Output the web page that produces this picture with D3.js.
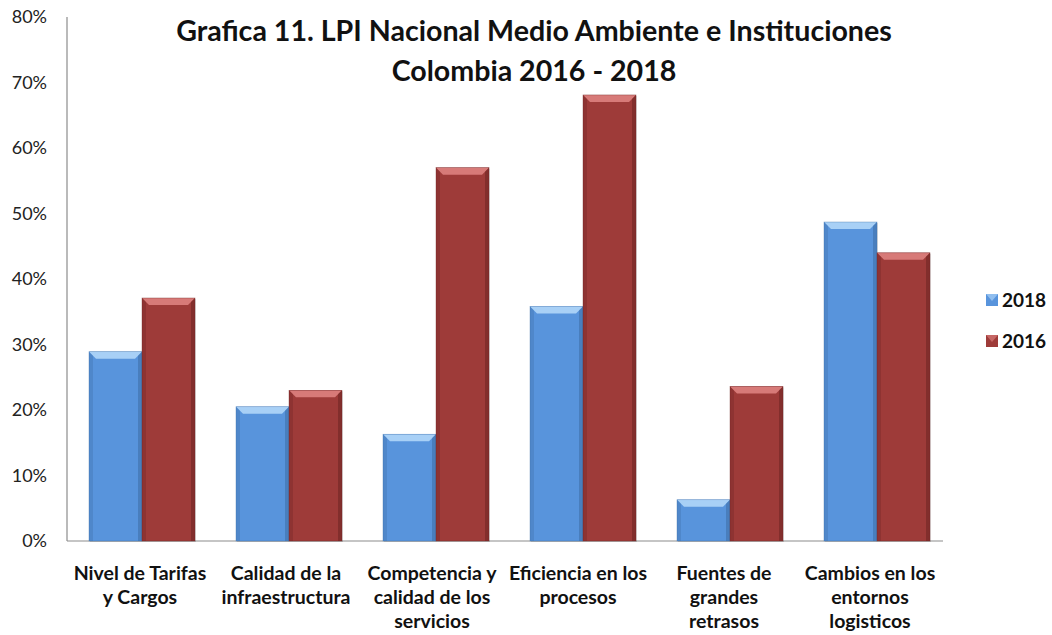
<!DOCTYPE html>
<html>
<head>
<meta charset="utf-8">
<script src="https://cdn.jsdelivr.net/npm/d3@7"></script>
<style>
body { margin: 0; background: #fff; }
svg { font-family: Lato, "Open Sans", sans-serif; }
</style>
</head>
<body>
<svg width="1052" height="635"></svg>
<script>
var categories = [
    ["Nivel de Tarifas", "y Cargos"],
    ["Calidad de la", "infraestructura"],
    ["Competencia y", "calidad de los", "servicios"],
    ["Eficiencia en los", "procesos"],
    ["Fuentes de", "grandes", "retrasos"],
    ["Cambios en los", "entornos", "logisticos"]
];
var series = ["2018", "2016"];
var values2018 = [0.289, 0.205, 0.163, 0.358, 0.063, 0.487];
var values2016 = [0.371, 0.230, 0.570, 0.681, 0.236, 0.440];
var yTicks = [0, 0.1, 0.2, 0.3, 0.4, 0.5, 0.6, 0.7, 0.8];

var colors = {"2018": "#5894dc", "2016": "#9e3b39"};
var light = {"2018": "#a8d0f6", "2016": "#d77a78"};
var dark = {"2018": "#3f6fa8", "2016": "#6f2624"};

var svg = d3.select('svg');

var ScaleX = d3.scaleBand().domain(d3.range(categories.length)).range([67, 949]);
// labels sit a little tighter than the bars
var ScaleLabel = d3.scaleBand().domain(d3.range(categories.length)).range([67, 943]);
// two bars sit in the middle of each category
var ScaleSub = d3.scaleBand().domain(series).range([22, 128]).paddingInner(0);
var ScaleY = d3.scaleLinear().domain([0, 0.8]).range([541, 17]);

// axes
svg.append('line')
    .attr('x1', 67).attr('x2', 67)
    .attr('y1', ScaleY(0.8)).attr('y2', ScaleY(0))
    .attr('stroke', '#8c8c8c').attr('stroke-width', 1.2);
svg.append('line')
    .attr('x1', 67).attr('x2', 943)
    .attr('y1', ScaleY(0)).attr('y2', ScaleY(0))
    .attr('stroke', '#8c8c8c').attr('stroke-width', 1.2);

svg.selectAll('.ytick')
    .data(yTicks)
    .enter()
    .append('text')
    .attr('class', 'ytick')
    .attr('x', 47)
    .attr('y', function(d){ return ScaleY(d); })
    .attr('dy', '0.35em')
    .attr('text-anchor', 'end')
    .style('font-size', '18px')
    .style('fill', '#222')
    .text(d3.format('.0%'));

// bars with a bevel
var rows = [];
categories.forEach(function(c, i){
    rows.push({i: i, s: "2018", v: values2018[i]});
    rows.push({i: i, s: "2016", v: values2016[i]});
});

var bars = svg.selectAll('.bar')
    .data(rows)
    .enter()
    .append('g')
    .attr('class', 'bar');

bars.each(function(d){
    var g = d3.select(this);
    var x0 = ScaleX(d.i) + ScaleSub(d.s);
    var w = ScaleSub.bandwidth();
    var y0 = ScaleY(d.v);
    var y1 = ScaleY(0);
    var b = 7;
    g.append('rect')
        .attr('x', x0 + 1).attr('y', y0 + 1)
        .attr('width', w).attr('height', y1 - y0)
        .attr('fill', '#000').attr('opacity', 0.12);
    g.append('rect')
        .attr('x', x0).attr('y', y0)
        .attr('width', w).attr('height', y1 - y0)
        .attr('fill', colors[d.s]);
    // top bevel
    g.append('polygon')
        .attr('points', [[x0, y0], [x0 + w, y0], [x0 + w - b, y0 + b], [x0 + b, y0 + b]].join(' '))
        .attr('fill', light[d.s]);
    // right bevel
    g.append('polygon')
        .attr('points', [[x0 + w, y0], [x0 + w, y1], [x0 + w - 4, y1], [x0 + w - 4, y0 + 4]].join(' '))
        .attr('fill', dark[d.s]).attr('opacity', 0.6);
    // left bevel
    g.append('polygon')
        .attr('points', [[x0, y0], [x0 + 4, y0 + 4], [x0 + 4, y1], [x0, y1]].join(' '))
        .attr('fill', dark[d.s]).attr('opacity', 0.35);
    g.append('rect')
        .attr('x', x0).attr('y', y0)
        .attr('width', w).attr('height', y1 - y0)
        .attr('fill', 'none').attr('stroke', dark[d.s]).attr('stroke-width', 0.6).attr('opacity', 0.6);
});

// category labels
svg.selectAll('.cat')
    .data(categories)
    .enter()
    .append('text')
    .attr('class', 'cat')
    .attr('text-anchor', 'middle')
    .style('font-size', '19.5px')
    .style('font-weight', 'bold')
    .style('fill', '#111')
    .each(function(d, i){
        var t = d3.select(this);
        d.forEach(function(line, k){
            t.append('tspan')
                .attr('x', ScaleLabel(i) + ScaleLabel.bandwidth() / 2)
                .attr('y', 580 + k * 24)
                .text(line);
        });
    });

// title
svg.append('text')
    .attr('x', 534).attr('y', 41)
    .attr('text-anchor', 'middle')
    .style('font-size', '28.6px').style('font-weight', 'bold').style('fill', '#111')
    .text('Grafica  11. LPI Nacional Medio Ambiente e Instituciones');
svg.append('text')
    .attr('x', 534).attr('y', 81)
    .attr('text-anchor', 'middle')
    .style('font-size', '28.6px').style('font-weight', 'bold').style('fill', '#111')
    .text('Colombia 2016 - 2018');

// legend
var legend = svg.selectAll('.legend')
    .data(series)
    .enter()
    .append('g')
    .attr('class', 'legend')
    .attr('transform', function(d, i){ return 'translate(986,' + (300 + i * 41) + ')'; });
legend.append('rect')
    .attr('x', 0).attr('y', -6)
    .attr('width', 12).attr('height', 12)
    .attr('fill', function(d){ return colors[d]; });
legend.append('polygon')
    .attr('points', '0,-6 12,-6 6,1')
    .attr('fill', function(d){ return light[d]; }).attr('opacity', 0.7);
legend.append('text')
    .attr('x', 16).attr('y', 0).attr('dy', '0.35em')
    .style('font-size', '19px').style('font-weight', 'bold').style('fill', '#111')
    .text(function(d){ return d; });
</script>
</body>
</html>
